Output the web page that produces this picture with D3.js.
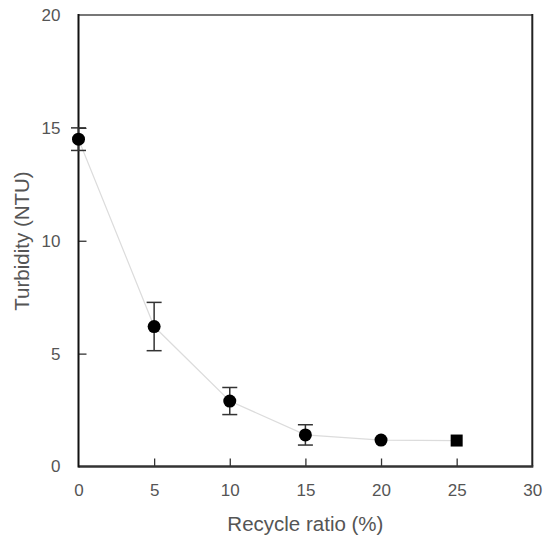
<!DOCTYPE html>
<html>
<head>
<meta charset="utf-8">
<script src="https://cdn.jsdelivr.net/npm/d3@7"></script>
<style>
  body { margin: 0; background: #fff; }
  text { font-family: "Liberation Sans", Arial, sans-serif; fill: #555; }
</style>
</head>
<body>
<div id="chart"></div>
<script>
// data
var ratio = [0, 5, 10, 15, 20, 25];
var turbidity = [14.5, 6.2, 2.9, 1.4, 1.17, 1.15];
var errors = [0.5, 1.07, 0.6, 0.45, 0, 0];
var markers = ["circle", "circle", "circle", "circle", "circle", "square"];
var xTicks = [0, 5, 10, 15, 20, 25, 30];
var yTicks = [0, 5, 10, 15, 20];

var svgWidth = 553;
var svgHeight = 536;

var margin = { top: 15, right: 21, bottom: 70, left: 78.5 };
var width = 532.3 - margin.left;
var height = 466.5 - margin.top;

var svg = d3.select("#chart")
    .append("svg")
    .attr("width", svgWidth)
    .attr("height", svgHeight);

var chartGroup = svg.append("g")
    .attr("transform", `translate(${margin.left},${margin.top})`);

var x = d3.scaleLinear().domain([0, 30]).range([0, width]);
var y = d3.scaleLinear().domain([0, 20]).range([height, 0]);

var points = ratio.map(function(r, i) {
    return { x: r, y: turbidity[i], e: errors[i], m: markers[i] };
});

// connecting line
var line = d3.line()
    .x(d => x(d.x))
    .y(d => y(d.y));

chartGroup.append("path")
    .datum(points)
    .attr("d", line)
    .attr("fill", "none")
    .attr("stroke", "#dcdcdc")
    .attr("stroke-width", 1.2);

// axes (ticks pointing inward)
var bottomAxis = d3.axisBottom(x).tickValues(xTicks).tickSizeInner(-8).tickSizeOuter(0).tickPadding(17);
var leftAxis = d3.axisLeft(y).tickValues(yTicks).tickSizeInner(-8).tickSizeOuter(0).tickPadding(18);

var gx = chartGroup.append("g")
    .attr("transform", `translate(0, ${height})`)
    .call(bottomAxis);
var gy = chartGroup.append("g").call(leftAxis);

[gx, gy].forEach(function(g) {
    g.select(".domain").remove();
    g.selectAll(".tick line").attr("stroke", "#333").attr("stroke-width", 1.3);
    g.selectAll(".tick text")
        .attr("fill", "#555")
        .style("font-size", "17px")
        .style("font-family", "Liberation Sans, Arial, sans-serif");
});
// hide ticks at the frame corners
gx.selectAll(".tick").filter(d => d === 0 || d === 30).select("line").remove();
gy.selectAll(".tick").filter(d => d === 0 || d === 20).select("line").remove();

// frame
chartGroup.append("line").attr("x1", 0).attr("x2", width).attr("y1", 0).attr("y2", 0)
    .attr("stroke", "#777").attr("stroke-width", 2.2);
chartGroup.append("line").attr("x1", width).attr("x2", width).attr("y1", -1).attr("y2", height)
    .attr("stroke", "#222").attr("stroke-width", 2);
chartGroup.append("line").attr("x1", 0).attr("x2", width + 1).attr("y1", height).attr("y2", height)
    .attr("stroke", "#333").attr("stroke-width", 2.4);
chartGroup.append("line").attr("x1", 0).attr("x2", 0).attr("y1", -1).attr("y2", height + 1)
    .attr("stroke", "#111").attr("stroke-width", 2);

// error bars
var bars = chartGroup.selectAll(".err")
    .data(points.filter(d => d.e > 0))
    .enter()
    .append("g")
    .attr("class", "err");

bars.append("line")
    .attr("x1", d => x(d.x)).attr("x2", d => x(d.x))
    .attr("y1", d => y(d.y + d.e)).attr("y2", d => y(d.y - d.e));
bars.append("line")
    .attr("x1", d => x(d.x) - 7.5).attr("x2", d => x(d.x) + 7.5)
    .attr("y1", d => y(d.y + d.e)).attr("y2", d => y(d.y + d.e));
bars.append("line")
    .attr("x1", d => x(d.x) - 7.5).attr("x2", d => x(d.x) + 7.5)
    .attr("y1", d => y(d.y - d.e)).attr("y2", d => y(d.y - d.e));
bars.selectAll("line").attr("stroke", "#333").attr("stroke-width", 1.5);

// markers
chartGroup.selectAll(".dot")
    .data(points.filter(d => d.m === "circle"))
    .enter()
    .append("circle")
    .attr("cx", d => x(d.x))
    .attr("cy", d => y(d.y))
    .attr("r", 6.5)
    .attr("fill", "#000");

chartGroup.selectAll(".sq")
    .data(points.filter(d => d.m === "square"))
    .enter()
    .append("rect")
    .attr("x", d => x(d.x) - 6)
    .attr("y", d => y(d.y) - 6)
    .attr("width", 12)
    .attr("height", 12)
    .attr("fill", "#000");

// axis titles
svg.append("text")
    .attr("x", margin.left + width / 2)
    .attr("y", 531)
    .style("text-anchor", "middle")
    .style("font-size", "20.5px")
    .text("Recycle ratio (%)");

svg.append("text")
    .attr("transform", "rotate(-90)")
    .attr("x", -241)
    .attr("y", 29)
    .style("text-anchor", "middle")
    .style("font-size", "20.5px")
    .text("Turbidity (NTU)");
</script>
</body>
</html>
